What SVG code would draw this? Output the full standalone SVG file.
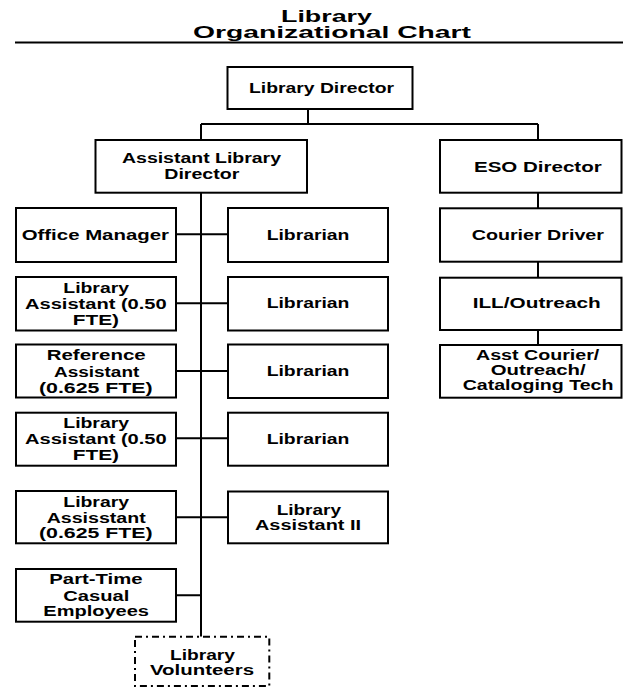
<svg xmlns="http://www.w3.org/2000/svg" width="623" height="687" viewBox="0 0 623 687">
<defs>
<style>
.box{fill:#fff;stroke:#000;stroke-width:2}
.dash{fill:#fff;stroke:#000;stroke-width:2;stroke-dasharray:7 4 2 4}
.ln{fill:none;stroke:#000;stroke-width:2}
text{font-family:"Liberation Sans",Arial,sans-serif;font-weight:bold;font-size:14px;fill:#000}
.title{font-size:17px}
</style>
</defs>
<rect width="623" height="687" fill="#fff"/>
<g id="title">
<text class="title" x="281" y="21.5" textLength="91" lengthAdjust="spacingAndGlyphs">Library</text>
<text class="title" x="193" y="37.5" textLength="278" lengthAdjust="spacingAndGlyphs">Organizational Chart</text>
<line class="ln" x1="15" y1="42.5" x2="623" y2="42.5"/>
</g>
<g id="connectors">
<path class="ln" d="M308 109V124M201 124H538M201 124V140M538 124V140M201 192.7V636.7"/>
<path class="ln" d="M176 234.3H228M176 303.3H228M176 371H228M176 438.3H228M176 517.3H228M176 595.3H201"/>
<path class="ln" d="M538 192.7V208.3M538 261.7V277.7M538 330V345"/>
</g>
<g id="library-director">
<rect class="box" x="227.5" y="67" width="185" height="42"/>
<text x="249" y="93" textLength="145" lengthAdjust="spacingAndGlyphs">Library Director</text>
</g>
<g id="assistant-library-director">
<rect class="box" x="95.5" y="140" width="211.5" height="52.7"/>
<text x="122" y="163.3" textLength="159" lengthAdjust="spacingAndGlyphs">Assistant Library</text>
<text x="164.3" y="179" textLength="75" lengthAdjust="spacingAndGlyphs">Director</text>
</g>
<g id="eso-director">
<rect class="box" x="440" y="140" width="181.5" height="52.7"/>
<text x="474" y="171.7" textLength="127.7" lengthAdjust="spacingAndGlyphs">ESO Director</text>
</g>
<g id="office-manager">
<rect class="box" x="16" y="208" width="160" height="54"/>
<text x="21.7" y="240" textLength="147.3" lengthAdjust="spacingAndGlyphs">Office Manager</text>
</g>
<g id="librarian-1">
<rect class="box" x="228" y="208" width="160" height="54"/>
<text x="266.7" y="240" textLength="82.7" lengthAdjust="spacingAndGlyphs">Librarian</text>
</g>
<g id="library-assistant-1">
<rect class="box" x="16" y="277" width="160" height="53.5"/>
<text x="63.3" y="292.5" textLength="65.7" lengthAdjust="spacingAndGlyphs">Library</text>
<text x="25" y="308.5" textLength="141.7" lengthAdjust="spacingAndGlyphs">Assistant (0.50</text>
<text x="72.7" y="324.5" textLength="46.3" lengthAdjust="spacingAndGlyphs">FTE)</text>
</g>
<g id="librarian-2">
<rect class="box" x="228" y="277" width="160" height="53.5"/>
<text x="266.7" y="307.5" textLength="82.7" lengthAdjust="spacingAndGlyphs">Librarian</text>
</g>
<g id="reference-assistant">
<rect class="box" x="16" y="344.5" width="160" height="53"/>
<text x="46.7" y="360" textLength="99" lengthAdjust="spacingAndGlyphs">Reference</text>
<text x="54" y="376.5" textLength="85.3" lengthAdjust="spacingAndGlyphs">Assistant</text>
<text x="39" y="393" textLength="113.7" lengthAdjust="spacingAndGlyphs">(0.625 FTE)</text>
</g>
<g id="librarian-3">
<rect class="box" x="228" y="344.5" width="160" height="53.5"/>
<text x="266.7" y="376" textLength="82.7" lengthAdjust="spacingAndGlyphs">Librarian</text>
</g>
<g id="library-assistant-2">
<rect class="box" x="16" y="412.7" width="160" height="53"/>
<text x="63.3" y="427.7" textLength="65.7" lengthAdjust="spacingAndGlyphs">Library</text>
<text x="25" y="443.7" textLength="141.7" lengthAdjust="spacingAndGlyphs">Assistant (0.50</text>
<text x="72.7" y="460.3" textLength="46.3" lengthAdjust="spacingAndGlyphs">FTE)</text>
</g>
<g id="librarian-4">
<rect class="box" x="228" y="412.7" width="160" height="53"/>
<text x="266.7" y="443.5" textLength="82.7" lengthAdjust="spacingAndGlyphs">Librarian</text>
</g>
<g id="library-assisstant">
<rect class="box" x="16" y="491" width="160" height="52.3"/>
<text x="63.3" y="506.5" textLength="65.7" lengthAdjust="spacingAndGlyphs">Library</text>
<text x="46.7" y="522.5" textLength="99" lengthAdjust="spacingAndGlyphs">Assisstant</text>
<text x="39" y="537.5" textLength="113.7" lengthAdjust="spacingAndGlyphs">(0.625 FTE)</text>
</g>
<g id="library-assistant-ii">
<rect class="box" x="228" y="491.5" width="160" height="51.8"/>
<text x="276.7" y="514.5" textLength="64.3" lengthAdjust="spacingAndGlyphs">Library</text>
<text x="255" y="530" textLength="106" lengthAdjust="spacingAndGlyphs">Assistant II</text>
</g>
<g id="part-time">
<rect class="box" x="16" y="569" width="160" height="52.7"/>
<text x="49.3" y="584" textLength="93.3" lengthAdjust="spacingAndGlyphs">Part-Time</text>
<text x="63.3" y="600.5" textLength="66" lengthAdjust="spacingAndGlyphs">Casual</text>
<text x="43.3" y="615.5" textLength="105.7" lengthAdjust="spacingAndGlyphs">Employees</text>
</g>
<g id="library-volunteers">
<rect class="dash" x="135" y="636.7" width="134.3" height="49.3"/>
<text x="170" y="659.5" textLength="65" lengthAdjust="spacingAndGlyphs">Library</text>
<text x="150" y="674.5" textLength="104" lengthAdjust="spacingAndGlyphs">Volunteers</text>
</g>
<g id="courier-driver">
<rect class="box" x="440" y="208.3" width="181.5" height="53.4"/>
<text x="471.7" y="240" textLength="132.3" lengthAdjust="spacingAndGlyphs">Courier Driver</text>
</g>
<g id="ill-outreach">
<rect class="box" x="440" y="277.7" width="181.5" height="52.3"/>
<text x="472.7" y="307.5" textLength="128" lengthAdjust="spacingAndGlyphs">ILL/Outreach</text>
</g>
<g id="asst-courier">
<rect class="box" x="440" y="345" width="181.5" height="52.7"/>
<text x="476" y="360" textLength="123.3" lengthAdjust="spacingAndGlyphs">Asst Courier/</text>
<text x="490.7" y="375" textLength="95" lengthAdjust="spacingAndGlyphs">Outreach/</text>
<text x="462.7" y="390" textLength="150.7" lengthAdjust="spacingAndGlyphs">Cataloging Tech</text>
</g>
</svg>
